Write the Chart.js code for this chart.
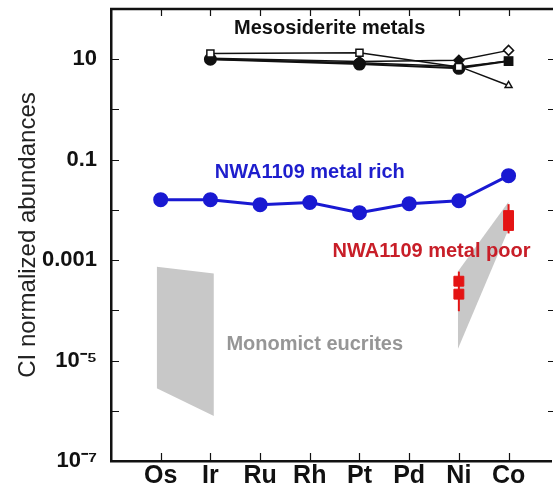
<!DOCTYPE html>
<html>
<head>
<meta charset="utf-8">
<script src="https://cdn.jsdelivr.net/npm/chart.js@4.4.1/dist/chart.umd.min.js"></script>
<style>
  html, body { margin: 0; padding: 0; background: #fff; overflow: hidden; }
  #wrap { width: 560px; height: 486px; }
</style>
</head>
<body>
<div id="wrap"><canvas id="siderophileChart" width="560" height="486"></canvas></div>
<script>
// element order along the x axis
const elements = ['Os', 'Ir', 'Ru', 'Rh', 'Pt', 'Pd', 'Ni', 'Co'];

// NWA1109 metal rich (CI normalized)
const metalRich = [0.016, 0.016, 0.0127, 0.014, 0.0088, 0.0133, 0.0152, 0.048];

// mesosiderite metals, measured at Ir, Pt, Ni, Co
const mesoElements = ['Ir', 'Pt', 'Ni', 'Co'];
const mesoA = [10, 8.0, 6.6, 9.2];
const mesoB = [13, 13.5, 7.0, 9.2];
const mesoC = [10.5, 9.0, 9.5, 15];
const mesoD = [10, 8.5, 7.2, 3.0];

// NWA1109 metal poor, two analyses each at Ni and Co
const poorElements = ['Ni', 'Ni', 'Co', 'Co'];
const metalPoor = [3.8e-4, 2.1e-4, 7.7e-3, 4.9e-3];
const poorErrElements = ['Ni', 'Co'];
const poorErrLow = [9.6e-5, 3.4e-3];
const poorErrHigh = [5.9e-4, 0.013];

// monomict eucrites field (two grey bands): x position, upper and lower bound
const eucriteLeftX = [-0.08, 1.07];
const eucriteLeftTop = [7.4e-4, 5.4e-4];
const eucriteLeftBottom = [2.8e-6, 7.9e-7];
const eucriteRightX = [5.98, 7.0];
const eucriteRightTop = [5.9e-4, 0.0145];
const eucriteRightBottom = [1.7e-5, 4.1e-3];

// y ticks (only every second decade is labelled)
const yTickValues = [1e-7, 1e-6, 1e-5, 1e-4, 1e-3, 1e-2, 0.1, 1, 10, 100];
const yTickLabels = { '1e-7': '10\u207B\u2077', '0.00001': '10\u207B\u2075', '0.001': '0.001', '0.1': '0.1', '10': '10' };

// text labels placed in data space: [text, x, y, colour]
const notes = [
  ['Mesosiderite metals', 3.4, 41, '#111111'],
  ['NWA1109 metal rich', 3.0, 0.055, 'rgb(30,30,205)'],
  ['NWA1109 metal poor', 5.45, 0.0015, 'rgb(200,30,40)'],
  ['Monomict eucrites', 3.1, 2.1e-5, 'rgb(150,150,150)']
];

const idx = e => elements.indexOf(e);
const pts = (names, vals) => vals.map((v, i) => ({ x: idx(names[i]), y: v }));
const band = (xs, vals) => vals.map((v, i) => ({ x: xs[i], y: v }));

const grey = 'rgb(200,200,200)';
const red = 'rgb(228,20,20)';

const datasets = [
  { data: band(eucriteLeftX, eucriteLeftTop), borderWidth: 0, pointRadius: 0, fill: false, order: 10 },
  { data: band(eucriteLeftX, eucriteLeftBottom), borderWidth: 0, pointRadius: 0, fill: '-1', backgroundColor: grey, order: 10 },
  { data: band(eucriteRightX, eucriteRightTop), borderWidth: 0, pointRadius: 0, fill: false, order: 10 },
  { data: band(eucriteRightX, eucriteRightBottom), borderWidth: 0, pointRadius: 0, fill: '-1', backgroundColor: grey, order: 10 },
  {
    data: pts(elements, metalRich),
    borderColor: 'rgb(25,25,210)', backgroundColor: 'rgb(25,25,210)',
    borderWidth: 3, pointRadius: 6, pointStyle: 'circle'
  },
  {
    data: pts(mesoElements, mesoB),
    borderColor: '#111', backgroundColor: ['#fff', '#fff', '#fff', '#111'],
    borderWidth: 1.5, pointRadius: 5, pointStyle: 'rect'
  },
  {
    data: pts(mesoElements, mesoC),
    borderColor: '#111', backgroundColor: ['#111', '#111', '#111', '#fff'],
    borderWidth: 1.5, pointRadius: 5, pointStyle: 'rectRot'
  },
  {
    data: pts(mesoElements, mesoD),
    borderColor: '#111', backgroundColor: '#fff',
    borderWidth: 1.5, pointRadius: 4, pointStyle: 'triangle'
  },
  {
    data: pts(mesoElements, mesoA),
    borderColor: '#111', backgroundColor: '#111',
    borderWidth: 2, pointRadius: 5.5, pointStyle: ['circle', 'circle', 'circle', 'rect']
  }
];

// error bars for the metal poor analyses
poorErrElements.forEach((e, i) => {
  datasets.push({
    data: [{ x: idx(e), y: poorErrLow[i] }, { x: idx(e), y: poorErrHigh[i] }],
    borderColor: red, borderWidth: 2, pointRadius: 0
  });
});

datasets.push({
  data: pts(poorElements, metalPoor),
  showLine: false,
  borderColor: red, backgroundColor: red,
  pointRadius: 7, pointStyle: 'rect'
});

// inward ticks, top border and text labels
const framePlugin = {
  id: 'frame',
  afterDraw(chart) {
    const { ctx, chartArea: a, scales: { x, y } } = chart;
    ctx.save();
    ctx.strokeStyle = '#111';
    ctx.lineWidth = 2.5;
    ctx.beginPath();
    ctx.moveTo(a.left - 1, a.top);
    ctx.lineTo(a.right + 2, a.top);
    ctx.stroke();

    ctx.lineWidth = 1.2;
    ctx.beginPath();
    yTickValues.slice(1, -1).forEach(v => {
      const py = Math.round(y.getPixelForValue(v)) + 0.5;
      ctx.moveTo(a.left, py); ctx.lineTo(a.left + 8, py);
      ctx.moveTo(a.right - 3, py); ctx.lineTo(a.right + 2, py);
    });
    elements.forEach((e, i) => {
      const px = Math.round(x.getPixelForValue(i)) + 0.5;
      ctx.moveTo(px, a.bottom); ctx.lineTo(px, a.bottom - 8);
      ctx.moveTo(px, a.top); ctx.lineTo(px, a.top + 7);
    });
    ctx.stroke();

    ctx.font = 'bold 20px "Liberation Sans", Arial, sans-serif';
    ctx.textAlign = 'center';
    ctx.textBaseline = 'middle';
    notes.forEach(([t, nx, ny, c]) => {
      ctx.fillStyle = c;
      ctx.fillText(t, x.getPixelForValue(nx), y.getPixelForValue(ny));
    });
    ctx.restore();
  }
};

new Chart(document.getElementById('siderophileChart'), {
  type: 'line',
  data: { datasets },
  options: {
    responsive: false,
    animation: false,
    layout: { padding: { top: 8, right: 1, left: 0, bottom: 0 } },
    plugins: { legend: { display: false }, tooltip: { enabled: false } },
    scales: {
      x: {
        type: 'linear',
        min: -1,
        max: 7.854,
        grid: { display: false, drawTicks: false },
        border: { color: '#111', width: 2.5 },
        afterBuildTicks: s => { s.ticks = elements.map((e, i) => ({ value: i })); },
        afterFit: s => { s.height = 25; s.paddingLeft = 0; s.paddingRight = 0; },
        ticks: {
          autoSkip: false,
          maxRotation: 0,
          padding: 0,
          color: '#111',
          font: { family: '"Liberation Sans", Arial, sans-serif', size: 25, weight: 'bold' },
          callback: v => elements[v]
        }
      },
      y: {
        type: 'logarithmic',
        min: 1e-7,
        max: 100,
        grid: { display: false, drawTicks: false },
        border: { color: '#111', width: 2.5 },
        afterBuildTicks: s => { s.ticks = yTickValues.map(v => ({ value: v })); },
        afterFit: s => { s.width = 111; s.paddingTop = 0; s.paddingBottom = 0; },
        ticks: {
          autoSkip: false,
          padding: 14,
          color: '#111',
          font: { family: '"Liberation Sans", Arial, sans-serif', size: 22, weight: 'bold' },
          callback: v => yTickLabels[String(v)] || ''
        },
        title: {
          display: true,
          text: 'CI normalized abundances',
          color: '#222',
          padding: { top: 14, bottom: 0 },
          font: { family: '"Liberation Sans", Arial, sans-serif', size: 24 }
        }
      }
    }
  },
  plugins: [framePlugin]
});
</script>
</body>
</html>
